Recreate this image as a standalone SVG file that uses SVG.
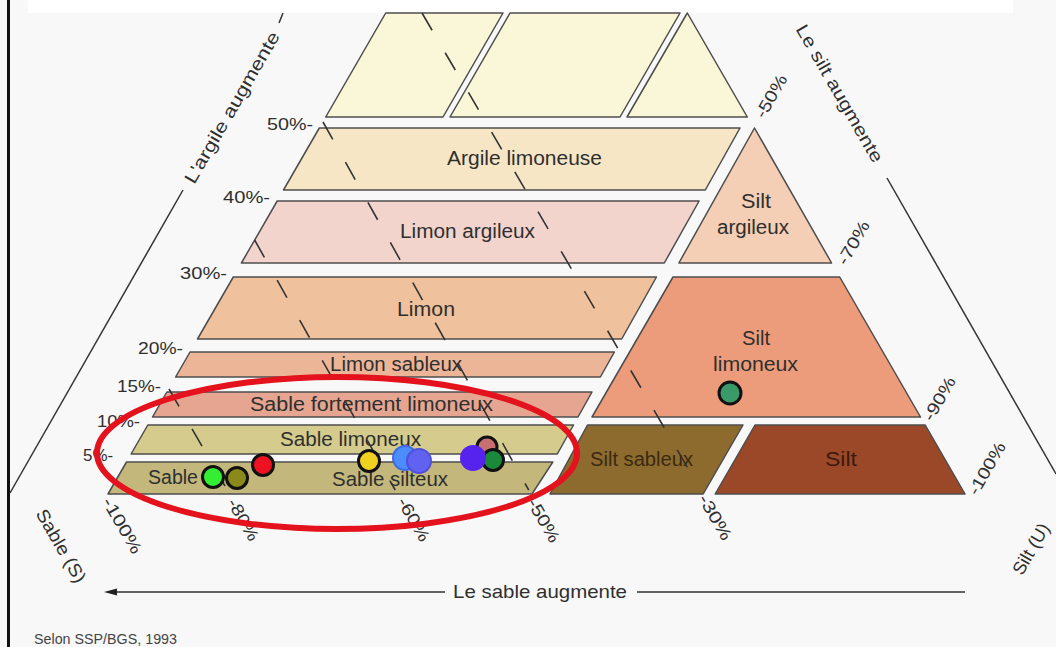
<svg xmlns="http://www.w3.org/2000/svg" width="1056" height="647" viewBox="0 0 1056 647">
<defs>
<style>
.band{stroke:#4d4d4d;stroke-width:1.5;stroke-linejoin:round}
.lbl{font-family:"Liberation Sans",Arial,sans-serif;font-size:20px;fill:#2f2f2f;text-anchor:middle}
.pct{font-family:"Liberation Sans",Arial,sans-serif;font-size:17px;fill:#2f2f2f}
.ax{font-family:"Liberation Sans",Arial,sans-serif;font-size:18px;fill:#2f2f2f}
.dash{stroke:#333;stroke-width:1.6;stroke-dasharray:20 26;fill:none}
.axis{stroke:#333;stroke-width:1.5;fill:none}
.pt{stroke:#111;stroke-width:3}
</style>
</defs>
<rect x="0" y="0" width="1056" height="647" fill="#f8f8f8"/>
<rect x="28" y="0" width="985" height="13" fill="#ffffff"/>
<rect x="7" y="0" width="3" height="647" fill="#111"/>

<g id="top-left"><polygon class="band" fill="#faf7d8" points="385.7,13 503,13 443,117 325.7,117"/></g>
<g id="top-middle"><polygon class="band" fill="#faf7d8" points="510,13 680,13 620,117 450,117"/></g>
<g id="top-right"><polygon class="band" fill="#faf7d8" points="687.3,13 747.3,117 627,117"/></g>

<g id="argile-limoneuse"><polygon class="band" fill="#f6e6c6" points="319.3,128 740,128 705.3,190 283.5,190"/></g>
<g id="limon-argileux"><polygon class="band" fill="#f3d4cd" points="277.2,201 699.1,201 664.3,263 241.4,263"/></g>
<g id="limon"><polygon class="band" fill="#efc19c" points="233.3,277 656.5,277 621.7,339 197.5,339"/></g>
<g id="limon-sableux"><polygon class="band" fill="#edb598" points="190,352 614.4,352 600.4,377 175.6,377"/></g>
<g id="sable-fortement-limoneux"><polygon class="band" fill="#e5a590" points="166.9,392 592,392 578,417 152.5,417"/></g>
<g id="sable-limoneux"><polygon class="band" fill="#d4cb8d" points="147.8,425 573.5,425 557.3,454 131.1,454"/></g>
<g id="sable"><polygon class="band" fill="#c3b77b" points="126.5,462 552.8,462 532,494 108,494"/></g>
<g id="silt-argileux"><polygon class="band" fill="#f4cfb5" points="754.5,128 831.6,263 678.9,263"/></g>
<g id="silt-limoneux"><polygon class="band" fill="#ec9c7a" points="673,277 839.7,277 920.5,417 592,417"/></g>
<g id="silt-sableux"><polygon class="band" fill="#8d6a2e" points="587.5,425 743,425 703.2,494 550,494"/></g>
<g id="silt"><polygon class="band" fill="#9a4828" points="755,425 925.2,425 965,494 715.2,494"/></g>

<g id="connectors">
<line class="dash" x1="422" y1="13" x2="700" y2="489"/>
<line class="dash" x1="323" y1="122" x2="528.7" y2="490"/>
<line class="dash" x1="254.6" y1="240" x2="395.2" y2="490"/>
<line class="dash" x1="169" y1="389" x2="227.3" y2="490"/>
<line class="axis" x1="283" y1="13" x2="279" y2="23"/>
<line class="axis" x1="183" y1="190" x2="10" y2="493"/>
<line class="axis" x1="887" y1="178" x2="1056" y2="474"/>
<line class="axis" x1="114" y1="592" x2="445" y2="592"/>
<line class="axis" x1="637" y1="592" x2="965" y2="592"/>
<polygon points="104,592 117,588.5 117,595.5" fill="#222"/>
</g>

<g id="labels">
<text class="lbl" x="524.5" y="165" textLength="155" lengthAdjust="spacingAndGlyphs">Argile limoneuse</text>
<text class="lbl" x="467.5" y="238" textLength="135" lengthAdjust="spacingAndGlyphs">Limon argileux</text>
<text class="lbl" x="426" y="316" textLength="58" lengthAdjust="spacingAndGlyphs">Limon</text>
<text class="lbl" x="396" y="371" textLength="132" lengthAdjust="spacingAndGlyphs">Limon sableux</text>
<text class="lbl" x="371.5" y="411" textLength="243" lengthAdjust="spacingAndGlyphs">Sable fortement limoneux</text>
<text class="lbl" x="350.5" y="446" textLength="141" lengthAdjust="spacingAndGlyphs">Sable limoneux</text>
<text class="lbl" x="173" y="484" textLength="50" lengthAdjust="spacingAndGlyphs">Sable</text>
<text class="lbl" x="390" y="486" textLength="116" lengthAdjust="spacingAndGlyphs">Sable silteux</text>
<text class="lbl" x="756" y="208" textLength="30" lengthAdjust="spacingAndGlyphs">Silt</text>
<text class="lbl" x="753" y="234" textLength="72" lengthAdjust="spacingAndGlyphs">argileux</text>
<text class="lbl" x="756" y="345" textLength="28" lengthAdjust="spacingAndGlyphs">Silt</text>
<text class="lbl" x="755.5" y="371" textLength="85" lengthAdjust="spacingAndGlyphs">limoneux</text>
<text class="lbl" x="641.5" y="466" textLength="103" lengthAdjust="spacingAndGlyphs" style="fill:#3a2a10">Silt sableux</text>
<text class="lbl" x="841" y="466" textLength="32" lengthAdjust="spacingAndGlyphs" style="fill:#3a1a10">Silt</text>

<g class="pct" text-anchor="end">
<text x="313" y="130" textLength="46" lengthAdjust="spacingAndGlyphs">50%-</text>
<text x="270" y="203" textLength="47" lengthAdjust="spacingAndGlyphs">40%-</text>
<text x="227" y="279" textLength="47" lengthAdjust="spacingAndGlyphs">30%-</text>
<text x="183" y="354" textLength="45" lengthAdjust="spacingAndGlyphs">20%-</text>
<text x="161" y="392" textLength="44" lengthAdjust="spacingAndGlyphs">15%-</text>
<text x="140" y="427" textLength="43" lengthAdjust="spacingAndGlyphs">10%-</text>
<text x="113" y="461" textLength="30" lengthAdjust="spacingAndGlyphs">5%-</text>
</g>

<g class="pct">
<text transform="translate(106,499) rotate(60)" y="5" textLength="62" lengthAdjust="spacingAndGlyphs">-100%</text>
<text transform="translate(231,500) rotate(60)" y="5" textLength="46" lengthAdjust="spacingAndGlyphs">-80%</text>
<text transform="translate(401,499) rotate(60)" y="5" textLength="48" lengthAdjust="spacingAndGlyphs">-60%</text>
<text transform="translate(531,500) rotate(60)" y="5" textLength="48" lengthAdjust="spacingAndGlyphs">-50%</text>
<text transform="translate(702,496) rotate(60)" y="5" textLength="50" lengthAdjust="spacingAndGlyphs">-30%</text>
<text transform="translate(760,117) rotate(-60)" y="5" textLength="47" lengthAdjust="spacingAndGlyphs">-50%</text>
<text transform="translate(842,264) rotate(-60)" y="5" textLength="48" lengthAdjust="spacingAndGlyphs">-70%</text>
<text transform="translate(928,420) rotate(-60)" y="5" textLength="48" lengthAdjust="spacingAndGlyphs">-90%</text>
<text transform="translate(973,494) rotate(-60)" y="5" textLength="58" lengthAdjust="spacingAndGlyphs">-100%</text>
</g>

<g class="ax" text-anchor="middle" dominant-baseline="central">
<text transform="translate(232,107.5) rotate(-60)" textLength="172" lengthAdjust="spacingAndGlyphs">L'argile augmente</text>
<text transform="translate(839.5,93.5) rotate(60)" textLength="156" lengthAdjust="spacingAndGlyphs">Le silt augmente</text>
<text transform="translate(61,546) rotate(60)" textLength="82" lengthAdjust="spacingAndGlyphs">Sable (S)</text>
<text transform="translate(1031,549) rotate(-60)" textLength="56" lengthAdjust="spacingAndGlyphs">Silt (U)</text>
</g>
<text class="ax" x="540" y="598" text-anchor="middle" textLength="174" lengthAdjust="spacingAndGlyphs" style="font-size:19px">Le sable augmente</text>
<text class="ax" x="34" y="644" textLength="143" lengthAdjust="spacingAndGlyphs" style="font-size:14px;fill:#444">Selon SSP/BGS, 1993</text>
</g>

<g id="points">
<circle class="pt" cx="730" cy="393" r="11" fill="#3a9a6a"/>
<circle class="pt" cx="213" cy="477" r="10.5" fill="#33ee33"/>
<circle class="pt" cx="237" cy="478" r="10.5" fill="#8a8a1a"/>
<circle class="pt" cx="263" cy="465" r="10.5" fill="#ee1122"/>
<circle class="pt" cx="369" cy="461" r="10.5" fill="#f0d020"/>
<circle cx="405" cy="458" r="12" fill="#4d8cff" stroke="#3d6ae6" stroke-width="2"/>
<circle cx="419" cy="461" r="12" fill="#6262f0" stroke="#5050dd" stroke-width="2"/>
<circle class="pt" cx="487" cy="447" r="10" fill="#c87070"/>
<circle class="pt" cx="493" cy="460" r="10.5" fill="#1a8a3a"/>
<circle cx="473" cy="458" r="13" fill="#5522ee"/>
</g>

<g id="highlight">
<ellipse cx="337" cy="453" rx="240" ry="76" fill="none" stroke="#e3121c" stroke-width="6"/>
</g>
</svg>
